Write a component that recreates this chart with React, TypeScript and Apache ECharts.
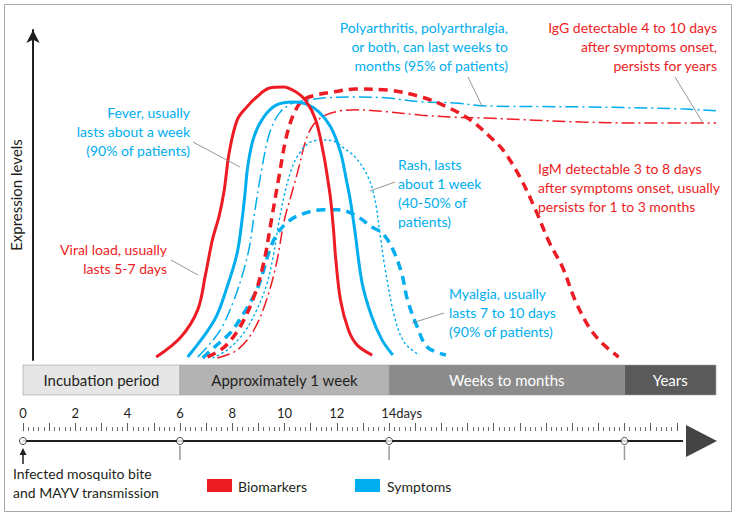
import React, { useEffect, useRef } from "react";
import * as echarts from "echarts";

const RED = "#ed1c24";
const BLUE = "#00aeef";
const DARK = "#231f20";
const FONT = "Lato, 'Liberation Sans', sans-serif";

// x = days since infection, y = relative expression level (0-100)
const viralLoad = [
  [4.78, 0.9], [5.74, 7.0], [6.39, 15.2], [6.69, 25.8], [6.96, 36.4], [7.23, 43.9], [7.42, 51.5],
  [7.61, 62.7], [7.92, 72.7], [8.3, 76.7], [8.68, 79.7], [9.18, 82.4], [9.71, 82.7], [10.21, 81.2],
  [10.59, 78.5], [10.97, 72.7], [11.28, 62.1], [11.47, 53.0], [11.55, 48.5], [11.66, 39.4],
  [11.74, 31.2], [11.93, 18.2], [12.24, 9.1], [12.58, 4.5], [13.16, 1.5],
];
const fever = [
  [6.0, 0.9], [7.04, 12.1], [7.53, 22.1], [7.92, 32.4], [8.11, 42.4], [8.22, 50.0], [8.34, 59.1],
  [8.57, 67.6], [8.95, 73.6], [9.45, 77.3], [10.1, 78.2], [10.59, 77.6], [11.09, 75.2], [11.55, 70.6],
  [11.93, 63.0], [12.16, 54.5], [12.31, 48.5], [12.5, 38.5], [12.77, 23.3], [13.15, 13.0],
  [13.54, 6.1], [13.96, 1.5],
];
const polyarthritis = [
  [6.39, 0.9], [6.65, 3.0], [7.27, 9.1], [7.8, 18.2], [8.18, 27.3], [8.41, 34.8], [8.57, 43.3],
  [8.87, 57.6], [9.18, 68.8], [9.56, 74.8], [10.1, 77.9], [10.71, 78.8], [11.24, 79.4], [12.5, 79.7],
  [13.77, 79.4], [15.07, 78.2], [16.33, 77.9], [17.59, 77.0], [21.3, 76.7], [25.12, 76.1], [26.5, 75.5],
];
const igm = [
  [6.77, 0.9], [7.42, 3.9], [8.03, 10.0], [8.57, 19.1], [8.95, 29.4], [9.25, 42.4], [9.52, 54.5],
  [9.83, 67.6], [10.13, 74.8], [10.48, 78.8], [10.98, 80.3], [11.63, 81.2], [12.5, 82.1], [13.77, 81.8],
  [15.07, 79.7], [16.06, 76.7], [16.98, 72.7], [17.86, 66.7], [18.24, 63.6], [18.89, 55.5],
  [19.5, 45.5], [20.04, 35.5], [20.54, 28.2], [21.03, 18.2], [21.57, 10.0], [22.07, 5.2], [22.72, 0.9],
];
const igg = [
  [7.15, 0.6], [7.92, 3.0], [8.57, 9.1], [9.06, 18.2], [9.45, 29.4], [9.75, 42.4], [10.02, 50.0],
  [10.29, 57.6], [10.59, 66.7], [10.9, 71.5], [11.35, 74.2], [11.93, 75.5], [12.5, 75.8], [13.77, 75.2],
  [15.07, 74.2], [16.33, 73.6], [17.59, 73.3], [21.3, 72.1], [23.86, 71.8], [26.5, 71.8],
];
const rash = [
  [6.96, 0.6], [7.53, 3.0], [8.18, 8.2], [8.68, 15.2], [9.06, 22.7], [9.33, 31.8], [9.52, 40.9],
  [9.75, 50.0], [10.02, 57.6], [10.29, 62.1], [10.71, 65.8], [11.24, 66.7], [11.74, 66.1], [12.01, 64.5],
  [12.5, 61.5], [13.0, 55.5], [13.27, 48.5], [13.46, 38.5], [13.65, 28.2], [14.03, 13.0], [14.42, 5.2],
  [14.99, 1.5],
];
const myalgia = [
  [6.58, 0.6], [7.04, 3.9], [7.65, 8.2], [8.18, 14.2], [8.68, 21.2], [8.95, 27.3], [9.18, 33.3],
  [9.45, 37.9], [9.83, 41.5], [10.33, 43.9], [11.24, 45.5], [11.85, 45.5], [12.5, 43.9], [13.15, 40.3],
  [13.54, 38.5], [13.92, 34.2], [14.3, 26.4], [14.53, 18.2], [14.91, 10.0], [15.3, 3.9], [16.02, 1.5],
];

const bandStarts = [0, 6, 14, 23];
const bandEnds = [6, 14, 23, 26.5];
const bandLabels = ["Incubation period", "Approximately 1 week", "Weeks to months", "Years"];
const bandColors = ["#e6e6e6", "#b3b3b3", "#8b8b8b", "#5a5a5a"];
const bandTextColors = [DARK, DARK, "#ffffff", "#ffffff"];

const milestoneDays = [0, 6, 14, 23];
const rulerLabelDays = [0, 2, 4, 6, 8, 10, 12, 14];
const timelineEnd = 25.24;

export default function App() {
  const ref = useRef<HTMLDivElement>(null);

  useEffect(() => {
    document.body.style.margin = "0";
    const chart = echarts.init(ref.current!, null, { renderer: "svg" });

    const curve = (name: string, data: number[][], color: string, width: number, type: any) => ({
      name,
      type: "line",
      xAxisIndex: 0,
      yAxisIndex: 0,
      data,
      smooth: 0.35,
      showSymbol: false,
      silent: true,
      lineStyle: { color, width, type, cap: "butt" },
      z: 3,
    });

    const txt = (text: string, x: number, y: number, fill: string, align: string) => ({
      type: "text",
      style: { text, x, y, fill, align, verticalAlign: "middle", font: `14px ${FONT}`, lineHeight: 19 },
      z: 10,
    });
    const leader = (x1: number, y1: number, x2: number, y2: number) => ({
      type: "line",
      shape: { x1, y1, x2, y2 },
      style: { stroke: "#7a7a7a", lineWidth: 0.8 },
      z: 9,
    });

    const option: any = {
      animation: false,
      backgroundColor: "#ffffff",
      grid: [
        { left: 23, top: 30, width: 693, height: 330 },
        { left: 23, top: 430, width: 653.75, height: 1 },
        { left: 23, top: 441, width: 693, height: 19 },
        { left: 23, top: 365, width: 693, height: 30 },
      ],
      xAxis: [
        { gridIndex: 0, type: "value", min: 0, max: 26.5, show: false },
        {
          gridIndex: 1,
          type: "value",
          min: 0,
          max: 25,
          interval: 1,
          position: "top",
          axisLine: { show: false },
          axisTick: { show: true, length: 8, lineStyle: { color: "#333", width: 0.8 } },
          minorTick: { show: true, splitNumber: 5, length: 4, lineStyle: { color: "#333", width: 0.7 } },
          splitLine: { show: false },
          axisLabel: {
            show: true,
            margin: 11,
            color: DARK,
            fontFamily: FONT,
            fontSize: 13,
            formatter: (v: number) => {
              if (!rulerLabelDays.includes(v)) return "";
              if (v === 14) return "{d|14days}";
              return String(v);
            },
            rich: { d: { fontFamily: FONT, fontSize: 13, color: DARK, padding: [0, 0, 0, 25] } },
          },
        },
        { gridIndex: 2, type: "value", min: 0, max: 26.5, show: false },
        { gridIndex: 3, type: "value", min: 0, max: 26.5, show: false },
      ],
      yAxis: [
        {
          gridIndex: 0,
          type: "value",
          min: 0,
          max: 100,
          axisLine: {
            show: true,
            lineStyle: { color: DARK, width: 2 },
            symbol: ["none", "arrow"],
            symbolSize: [10, 13],
          },
          axisTick: { show: false },
          axisLabel: { show: false },
          splitLine: { show: false },
          name: "Expression levels",
          nameLocation: "middle",
          nameGap: 10,
          nameRotate: 90,
          nameTextStyle: { color: DARK, fontFamily: FONT, fontSize: 15 },
        },
        { gridIndex: 1, type: "value", min: 0, max: 1, show: false },
        { gridIndex: 2, type: "value", min: 0, max: 1, inverse: true, show: false },
        { gridIndex: 3, type: "value", min: 0, max: 1, show: false },
      ],
      series: [
        curve("IgG", igg, RED, 1.5, [13, 4, 2, 4]),
        curve("Polyarthritis", polyarthritis, BLUE, 1.5, [13, 4, 2, 4]),
        curve("Rash", rash, BLUE, 1.4, [2.5, 2.5]),
        curve("Myalgia", myalgia, BLUE, 3.5, [9, 6]),
        curve("IgM", igm, RED, 3.5, [9, 6]),
        curve("Fever", fever, BLUE, 3, "solid"),
        curve("Viral load", viralLoad, RED, 3, "solid"),
        {
          type: "custom",
          xAxisIndex: 3,
          yAxisIndex: 3,
          silent: true,
          data: bandStarts.map((s, i) => [s, bandEnds[i], i]),
          renderItem: (params: any, api: any) => {
            const i = api.value(2);
            const p0 = api.coord([api.value(0), 1]);
            const p1 = api.coord([api.value(1), 0]);
            return {
              type: "group",
              children: [
                {
                  type: "rect",
                  shape: { x: p0[0], y: p0[1], width: p1[0] - p0[0], height: p1[1] - p0[1] },
                  style: { fill: bandColors[i], stroke: "#9d9d9d", lineWidth: 0.6 },
                },
                {
                  type: "text",
                  style: {
                    text: bandLabels[i],
                    x: (p0[0] + p1[0]) / 2,
                    y: (p0[1] + p1[1]) / 2,
                    align: "center",
                    verticalAlign: "middle",
                    fill: bandTextColors[i],
                    font: `15px ${FONT}`,
                  },
                },
              ],
            };
          },
        },
        {
          type: "line",
          xAxisIndex: 2,
          yAxisIndex: 2,
          data: [[0, 0], [timelineEnd, 0]],
          showSymbol: false,
          silent: true,
          lineStyle: { color: DARK, width: 2 },
        },
        {
          type: "custom",
          xAxisIndex: 2,
          yAxisIndex: 2,
          silent: true,
          data: milestoneDays.slice(1).map((d) => [d, 0]),
          renderItem: (params: any, api: any) => {
            const a = api.coord([api.value(0), 0.25]);
            const b = api.coord([api.value(0), 1]);
            return {
              type: "line",
              shape: { x1: a[0], y1: a[1], x2: b[0], y2: b[1] },
              style: { stroke: "#9a9a9a", lineWidth: 1.5 },
            };
          },
        },
        {
          type: "scatter",
          xAxisIndex: 2,
          yAxisIndex: 2,
          silent: true,
          data: milestoneDays.map((d) => [d, 0]),
          symbol: "circle",
          symbolSize: 7,
          itemStyle: { color: "#ffffff", borderColor: DARK, borderWidth: 1 },
          z: 5,
        },
      ],
      graphic: [
        {
          type: "rect",
          shape: { x: 4.5, y: 4.5, width: 727, height: 507 },
          style: { fill: "none", stroke: "#a8a8a8", lineWidth: 1 },
          silent: true,
        },
        txt("Fever, usually\nlasts about a week\n(90% of patients)", 190, 131, BLUE, "right"),
        leader(193, 142, 240, 167),
        txt("Viral load, usually\nlasts 5-7 days", 167, 259, RED, "right"),
        leader(171, 260, 198, 275),
        txt("Polyarthritis, polyarthralgia,\nor both, can last weeks to\nmonths (95% of patients)", 508, 46, BLUE, "right"),
        leader(468, 77, 482, 106),
        txt("IgG detectable 4 to 10 days\nafter symptoms onset,\npersists for years", 717, 46, RED, "right"),
        leader(675, 77, 703, 123),
        txt("IgM detectable 3 to 8 days\nafter symptoms onset, usually\npersists for 1 to 3 months", 538, 187, RED, "left"),
        txt("Rash, lasts\nabout 1 week\n(40-50% of\npatients)", 398, 193, BLUE, "left"),
        leader(370, 191, 395, 182),
        txt("Myalgia, usually\nlasts 7 to 10 days\n(90% of patients)", 449, 312, BLUE, "left"),
        leader(412, 323, 444, 313),
        {
          type: "polygon",
          shape: { points: [[686, 425], [717, 441], [686, 457]] },
          style: { fill: "#444444" },
          silent: true,
        },
        { type: "line", shape: { x1: 23, y1: 464, x2: 23, y2: 453 }, style: { stroke: DARK, lineWidth: 1.5 } },
        { type: "polygon", shape: { points: [[19.5, 455], [23, 448], [26.5, 455]] }, style: { fill: DARK } },
        txt("Infected mosquito bite\nand MAYV transmission", 13, 482.5, DARK, "left"),
        { type: "rect", shape: { x: 207, y: 479, width: 25, height: 13 }, style: { fill: RED } },
        txt("Biomarkers", 238, 486, DARK, "left"),
        { type: "rect", shape: { x: 355, y: 479, width: 25, height: 13 }, style: { fill: BLUE } },
        txt("Symptoms", 387, 486, DARK, "left"),
      ],
    };

    chart.setOption(option);
    return () => chart.dispose();
  }, []);

  return (
    <div
      ref={ref}
      style={{ position: "absolute", left: 0, top: 0, width: 735, height: 515, background: "#fff" }}
    />
  );
}
